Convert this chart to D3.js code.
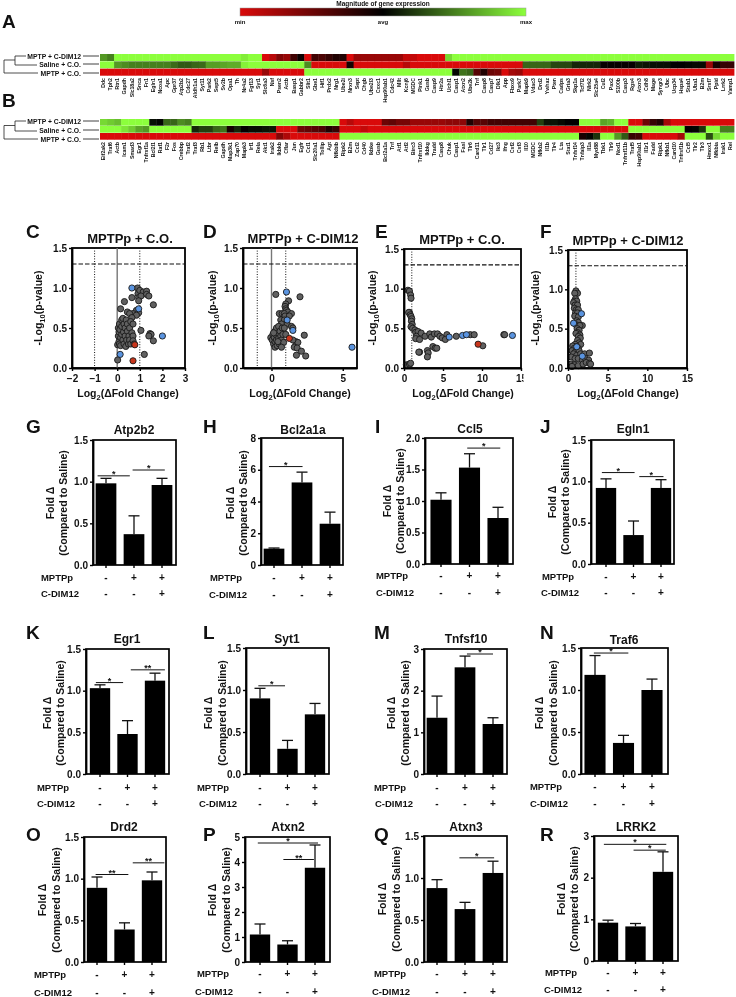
<!DOCTYPE html>
<html><head><meta charset="utf-8">
<script src="https://cdnjs.cloudflare.com/ajax/libs/d3/7.8.5/d3.min.js"></script>
<style>html,body{margin:0;padding:0;background:#fff}svg{display:block;filter:blur(.3px)}text{font-family:"Liberation Sans",Arial,sans-serif;font-weight:700;fill:#111}</style>
</head><body><div id="c"></div>
<script>
// ---------- heat maps ----------
const conditions=["MPTP + C-DIM12","Saline + C.O.","MPTP + C.O."];
const genesA=["Ddc","Tph2","Rtn1","Gapdh","Slc18a2","Snca","Fn1","Egln1","Ncoa1","Apc","Gpr37","Atp2b2","Cdc27","Aldh1a1","Syt11","Park2","Sept5","Sv2b","Opa1","Th","Nr4a2","Fgf13","Syt1","Slc6a3","Nsf","Psen2","Actb","Basp1","Gabbr2","Slit1","Gbe1","Hif1","Prdx2","Nrg1","Ube2i","Nrxn3","Sept","Chgb","Ube2l3","Cxxc1","Hsp90ab1","Cdc42","Mllt","Kcnj6","MGDC","Pink1","Gusb","Casp9","Htr2a","Uchl1","Casp1","Atxn2","Ube2k","Tnf","Casp8","Casp7","Dlk1","App","Fbxo9","Park7","Mapk9","Vdac3","Drd2","Ywhaz","Pten","Cadps","Gria3","Skp1a","Tcf7l2","Nlrk2","Slc25a4","Cul2","Pax2","S100b","Casp3","Rgs4","Atxn3","Cdh8","Mage","Syngr3","Ubc","Ucp34","Hspa4","Stub1","Uba1","B2m","Srsf7","Ppid","Lrrk2","Vamp1"];
const heatA1=[.6,.5,1,1,1,1,1,1,1,1,1,1,1,1,1,1,1,1,1,1,.93,1,1,-1,-.85,-.6,-.7,-.3,-.05,-1,-.3,-.35,-.25,-.15,-.15,-1,-.7,-.7,-.7,-.7,-.7,-.7,-.7,-.9,-.9,-1,-1,-1,-1,.85,1,1,1,1,1,1,1,1,1,1,1,1,1,1,1,1,1,1,1,1,1,1,1,1,1,1,1,1,1,1,1,1,1,1,1,1,1,1,1,1];
const heatA2=[1,1,.6,.55,.5,.5,.5,.5,.5,.5,.42,.35,.35,.4,.42,.62,.62,.65,.68,.68,.95,1,1,1,1,1,1,1,1,.55,-1,-1,-1,-1,-1,-.1,-1,-1,-1,-1,-1,-1,-1,-.85,-1,-1,-1,-1,-1,-1,-1,-1,-1,-1,-1,-1,-1,-1,-1,-1,.4,.4,.4,.4,.28,.28,.28,.15,.15,.15,.15,-.03,-.03,-.03,-.03,-.03,.1,.08,.06,.06,.06,0,0,.02,.04,.04,-.7,-.1,-.25,-.25];
const heatA3=[-1,-1,-1,-1,-1,-1,-1,-1,-1,-1,-1,-1,-1,-1,-1,-1,-1,-1,-1,-1,-1,-1,-1,-.7,-1,-1,-1,-1,-1,1,1,1,1,1,1,1,1,1,1,1,1,1,1,1,1,1,1,1,1,1,.03,.45,.4,-.4,-.15,-.5,-.55,-1,-.75,-.7,-1,-1,-1,-1,-1,-1,-1,-1,-1,-1,-1,-1,-1,-1,-1,-1,-1,-1,-1,-1,-1,-1,-1,-1,-1,-1,-1,-1,-1,-1];
const genesB=["Eif2ak2","Traf6","Actb","Icam1","Smad3","Egr1","Tnfrsf1a","Bcl2l1","Raf1","F2r","Fos","Crebbp","Traf2","Traf3","Rb1","Ltbr","Relb","Gapdh","Map3k1","Zap70","Mapk3","Irf1","Rela","Akt1","Irak2","Ikbkb","Cflar","Jun","Egfr","Ccl1","Slc20a1","Tollip","Agt","Nfkbib","Ripk2","B2m","Ccl2","Cd40","Ikbke","Gusb","Bcl2a1a","Tnf","Atf1","Atf2","Birc3","Tnfrsf10","Ikbkg","Tradd","Casp8","Chuk","Casp1","Fasl","Tlr6","Card11","Tlr1","Cd27","Ikt3","Ifng","Csf2","Csf3","Il10","MGDC","Nfkb2","Il1b","Tlr4","Lta","Stat1","Tnfsf14","Tnfaip3","Il1a","Myd88","Tbk1","Tlr9","Nod1","Tnfrsf11b","Traf5","Hsp90ab1","Il1r1","Fadd","Ripk1","Nfkb1","Card10","Tnfrsf1b","Ccl5","Tlr2","Tlr3","Hmox1","Nfkbia","Irak1","Rel"];
const heatB1=[.85,.8,.75,1,1,1,1,.06,.02,.4,.4,.55,.5,1,1,1,1,1,1,1,1,1,1,1,1,1,1,1,1,1,1,1,1,1,-1,-.85,-1,-1,-1,-1,-.5,-.45,-.55,-.55,-.7,-.7,-.7,-.7,-.7,-.65,-.65,-.65,-.15,-.4,-.4,-.3,-.3,-.3,-.3,-.3,-.3,-.3,.25,.08,.08,.04,0,0,1,1,1,.65,.7,1,1,-1,-1,-.5,-.25,-.15,-.75,-1,-1,-1,-1,-1,-1,-1,-1,-1];
const heatB2=[1,1,1,.9,.8,.65,.6,1,1,1,1,1,1,.15,.25,.25,.4,.45,-.1,.15,-.02,.05,.05,.08,.08,-1,-1,-1,-.5,-.45,-.4,-.35,-.15,-.25,-1,-1,-1,-.9,-1,-1,-1,-1,-1,-1,-1,-1,-1,-1,-1,-1,-1,-1,-1,-1,-1,-1,-1,-1,-1,-1,-1,-1,-1,-1,-1,-1,-1,-1,-1,-1,-1,-1,-1,-1,-1,1,1,1,1,1,1,1,1,-.02,.02,.2,1,1,.5,.5];
const heatB3=[-1,-1,-1,-1,-1,-1,-1,-1,-1,-1,-1,-1,-1,-1,-1,-1,-1,-1,-1,-1,-1,-1,-1,-1,-1,-.6,-.8,-1,-1,-1,-1,-1,-1,-1,1,1,1,1,1,1,1,1,1,1,1,1,1,1,1,1,1,1,1,1,1,1,1,1,1,1,1,1,1,1,1,1,1,1,-.1,.02,.2,1,1,.6,.35,-.25,-.3,-1,-1,-1,-1,-1,-.75,1,1,1,.3,.85,1,1];
const legendLabels=["min","avg","max"];
// ---------- volcano plots ----------
const volcCGray=[[.9,1],[.92,.93],[1,.97],[1.15,.95],[1.3,.96],[1.3,.92],[.65,.88],[.95,.88],[1.05,.9],[1.4,.9],[.32,.83],[.95,.84],[1.6,.79],[.15,.74],[.85,.72],[.95,.69],[.45,.7],[.7,.68],[.55,.68],[.85,.66],[.65,.63],[.02,.29],[.08,.33],[.1,.3],[.05,.4],[.08,.45],[.05,.5],[.1,.55],[.12,.48],[.15,.38],[.15,.28],[.2,.42],[.2,.52],[.2,.6],[.25,.35],[.25,.62],[.28,.45],[.3,.3],[.3,.55],[.35,.4],[.35,.5],[.38,.27],[.4,.6],[.42,.35],[.45,.46],[.45,.55],[.5,.3],[.52,.4],[.55,.5],[.55,.35],[.6,.58],[.6,.3],[.65,.44],[.7,.4],[.7,.34],[.7,.55],[.75,.3],[1.05,.47],[1.45,.43],[1.5,.42],[1.4,.4],[1.6,.34],[1.2,.17],[.02,.1]];
const volcCBlue=[[.65,1],[.95,.74],[2,.4],[.13,.17]];
const volcCRed=[[.78,.29],[.7,.09]];
const volcDGray=[[.3,.92],[2,.89],[1.2,.84],[1,.8],[.95,.77],[1,.74],[1.05,.72],[1.15,.7],[.55,.68],[.75,.68],[.9,.68],[1.4,.68],[.95,.65],[1.25,.65],[.65,.6],[.9,.6],[.7,.55],[1.1,.55],[1.4,.52],[1.5,.5],[2.3,.41],[1.7,.33],[1.85,.32],[1.5,.35],[1.6,.26],[1.8,.25],[2.1,.21],[2.4,.15],[1.75,.16],[-.05,.38],[.05,.35],[.1,.42],[.15,.3],[.2,.38],[.25,.33],[.25,.46],[.25,.26],[.3,.42],[.35,.5],[.35,.35],[.4,.28],[.45,.44],[.5,.52],[.5,.37],[.55,.3],[.6,.46],[.65,.4],[.7,.35],[.75,.5],[.8,.42],[.85,.32],[.9,.5],[1,.42],[.7,.26],[.15,.44],[.45,.33]];
const volcDBlue=[[1.05,.95],[1.1,.6],[1.5,.47],[5.65,.26]];
const volcDRed=[[1.25,.37]];
const volcEGray=[[.5,.98],[.7,.97],[.85,.92],[.9,.88],[.7,.7],[.6,.7],[.8,.67],[.9,.65],[1,.62],[.95,.59],[1.05,.55],[.9,.52],[1.1,.5],[1.4,.48],[1.5,.45],[1.8,.46],[1.6,.4],[2.2,.44],[1.5,.37],[2,.36],[2.7,.4],[3.3,.43],[3.5,.39],[3.9,.43],[4.3,.43],[4.6,.4],[4.9,.38],[5.5,.42],[5.3,.36],[6.7,.4],[8.5,.42],[9,.42],[12.8,.42],[12.9,.42],[10.1,.28],[2,.2],[3,.22],[3.1,.19],[3,.14],[3.7,.27],[4,.25],[4.2,.25],[.3,.04],[.7,.05],[.85,.06],[1.9,.2]];
const volcEBlue=[[7.5,.41],[8,.42],[13.9,.41],[5.8,.39]];
const volcERed=[[9.5,.3]];
const volcFGray=[[1,.98],[1.2,.95],[.85,.95],[.95,.88],[.8,.85],[1.1,.85],[.7,.83],[.9,.8],[1.2,.8],[.8,.76],[1.05,.74],[1.3,.74],[.95,.7],[1.2,.7],[.85,.66],[1.3,.65],[1.1,.6],[1.3,.58],[1,.55],[1.8,.54],[1.5,.54],[1.15,.5],[1.4,.48],[1.2,.45],[1,.44],[1.5,.42],[1.3,.4],[1.55,.38],[1.2,.35],[1.4,.32],[1.6,.3],[.9,.3],[.6,.28],[1.1,.27],[.8,.25],[1.3,.25],[.5,.22],[.9,.2],[1.4,.22],[.7,.18],[1.1,.16],[1.6,.18],[2.1,.18],[2.7,.19],[.4,.14],[.9,.12],[1.3,.12],[1.8,.1],[2.2,.12],[2.6,.1],[.4,.05],[.8,.04],[1.3,.03],[1.9,.05],[2.3,.07],[2.7,.06],[2.85,.05],[.5,.02]];
const volcFBlue=[[1.7,.69],[.7,.57],[1.8,.15],[1.1,.27]];
const volcFRed=[];
const volcTitles=["MPTPp + C.O.","MPTPp + C-DIM12","MPTPp + C.O.","MPTPp + C-DIM12"];
const volcXDomains=[[-2,3],[-2,6],[0,15],[0,15]];
const volcXTicks=[[-2,-1,0,1,2,3],[0,5],[0,5,10,15],[0,5,10,15]];
const volcDotted=[[-1,1],[-1,1],[1],[1]];
const volcZero=[0,0,null,null];
const volcYTicks=[0,.5,1,1.5];
const significance=1.3;
// ---------- bar panels ----------
const genes=["Atp2b2","Bcl2a1a","Ccl5","Egln1","Egr1","Syt1","Tnfsf10","Traf6","Drd2","Atxn2","Atxn3","LRRK2"];
const means=[[.98,.37,.96],[1.03,5.2,2.6],[1.02,1.53,.73],[.92,.35,.92],[1.03,.48,1.12],[.9,.3,.71],[1.35,2.56,1.2],[1.18,.37,1],[.89,.39,.98],[1.1,.7,3.77],[.88,.63,1.06],[.92,.83,2.14]];
const upper=[[1.04,.59,1.04],[1.07,5.85,3.33],[1.13,1.75,.9],[1.03,.52,1.02],[1.07,.64,1.21],[1.02,.4,.84],[1.87,2.83,1.35],[1.41,.46,1.13],[1.02,.47,1.08],[1.52,.85,4.68],[.98,.71,1.2],[.98,.9,2.62]];
const yMax=[1.5,8,2,1.5,1.5,1.5,3,1.5,1.5,5,1.5,3];
const yTicks=[[0,.5,1,1.5],[0,2,4,6,8],[0,.5,1,1.5,2],[0,.5,1,1.5],[0,.5,1,1.5],[0,.5,1,1.5],[0,1,2,3],[0,.5,1,1.5],[0,.5,1,1.5],[0,1,2,3,4,5],[0,.5,1,1.5],[0,1,2,3]];
// each bracket: from group, to group, height (axis units), stars
const brackets=[
 [[-.3,.85,1.07,"*"],[.95,2.1,1.14,"*"]],
 [[-.18,1.02,6.2,"*"]],
 [[.92,2.08,1.84,"*"]],
 [[-.15,1.04,1.106,"*"],[1.21,2.09,1.057,"*"]],
 [[-.15,.84,1.097,"*"],[1.12,2.36,1.25,"**"]],
 [[-.06,.91,1.05,"*"]],
 [[1.07,2,2.88,"*"]],
 [[-.04,1.17,1.44,"*"]],
 [[-.05,1.14,1.05,"**"],[1.3,2.45,1.19,"**"]],
 [[-.08,2.11,4.76,"*"],[.85,1.96,4.1,"**"]],
 [[.8,2.04,1.24,"*"]],
 [[-.15,2.12,2.8,"*"],[.93,2.1,2.66,"*"]]
];
const treatmentNames=["MPTPp","C-DIM12"];
const treatmentRows=[["-","+","+"],["-","-","+"]];
const panelLetters="ABCDEFGHIJKLMNOPQR".split("");

// ---------- layout ----------
const svg=d3.select("#c").append("svg").attr("width",736).attr("height",997);
const heatColor=d3.scaleLinear().domain([-1,0,1]).range(["#d90a0a","#000000","#8cff3c"]);
const letterPos=[[2,28],[2,107],[26,238],[203,238],[375,238],[540,238],[26,433],[203,433],[375,433],[540,433],[26,639],[203,639],[374,639],[540,639],[26,841],[203,841],[374,841],[540,841]];
panelLetters.forEach((l,i)=>svg.append("text").attr("x",letterPos[i][0]).attr("y",letterPos[i][1]).attr("font-size",19).text(l));

// legend
const defs=svg.append("defs");
const gr=defs.append("linearGradient").attr("id","lg");
[[0,-1],[.5,0],[1,1]].forEach(s=>gr.append("stop").attr("offset",s[0]).attr("stop-color",heatColor(s[1])));
const legScale=d3.scalePoint().domain(legendLabels).range([240,526]);
svg.append("rect").attr("x",240).attr("y",8).attr("width",286).attr("height",8).attr("fill","url(#lg)").attr("stroke","#999").attr("stroke-width",.5);
svg.append("text").attr("x",383).attr("y",6).attr("text-anchor","middle").attr("font-size",6.5).text("Magnitude of gene expression");
legendLabels.forEach(l=>{svg.append("text").attr("x",legScale(l)).attr("y",24).attr("text-anchor","middle").attr("font-size",6).text(l);});

function heat(genesList,rows,y0,y1,labY){
 const g=svg.append("g");
 const x=d3.scaleBand().domain(d3.range(genesList.length)).range([100,734]);
 const y=d3.scaleBand().domain(d3.range(3)).range([y0,y1]);
 rows.forEach((r,ri)=>{g.selectAll(null).data(r).enter().append("rect")
  .attr("x",(d,i)=>x(i)).attr("y",y(ri)).attr("width",x.bandwidth()+.4).attr("height",y.bandwidth()-.3).attr("fill",d=>heatColor(d));});
 g.selectAll(null).data(genesList).enter().append("text")
  .attr("transform",(d,i)=>`translate(${x(i)+x.bandwidth()/2+1.8},${y1+2}) rotate(-90)`)
  .attr("text-anchor","end").attr("font-size",5.2).attr("fill","#222").text(d=>d);
 conditions.forEach((c,i)=>{
  g.append("text").attr("x",81).attr("y",labY[i]+2.5).attr("text-anchor","end").attr("font-size",6.8).text(c);
  g.append("line").attr("x1",83).attr("x2",99).attr("y1",labY[i]).attr("y2",labY[i]).attr("stroke","#111").attr("stroke-width",.8);
 });
 const p=d3.path();
 p.moveTo(26,labY[0]);p.lineTo(15,labY[0]);p.lineTo(15,labY[1]+1);p.lineTo(37,labY[1]+1);
 const m=(labY[0]+labY[1])/2;
 p.moveTo(15,m);p.lineTo(4,m);p.lineTo(4,labY[2]);p.lineTo(38,labY[2]);
 g.append("path").attr("d",p.toString()).attr("fill","none").attr("stroke","#222").attr("stroke-width",.8);
}
heat(genesA,[heatA1,heatA2,heatA3],54,76,[56,64,73]);
heat(genesB,[heatB1,heatB2,heatB3],119,140,[121,130,139]);

// volcano: left,right,top,bottom,titleX,xLabelX,yLabelX
const volcBoxes=[[72,185,248,368,130,128,42],[243,357,248,368,303,300,216],[404,521,249,368,462,463,376],[568,687,250,368,628,628,539]];
const volcSets=[[volcCGray,volcCBlue,volcCRed],[volcDGray,volcDBlue,volcDRed],[volcEGray,volcEBlue,volcERed],[volcFGray,volcFBlue,volcFRed]];
const dotFill=["#606060","#5a94e0","#c9361c"];
defs.append("clipPath").attr("id","cutE").append("rect").attr("x",-50).attr("y",-2).attr("width",52).attr("height",30);
function axisStyle(sel,fs){sel.select(".domain").attr("stroke","#000").attr("stroke-width",1.8);
 sel.selectAll(".tick line").attr("stroke","#000").attr("stroke-width",1.4);
 sel.selectAll(".tick text").attr("font-size",fs).attr("font-family",'"Liberation Sans",Arial,sans-serif').attr("fill","#111");}
const fmt=d3.format(".1f");
volcBoxes.forEach((b,i)=>{
 const g=svg.append("g");
 const x=d3.scaleLinear().domain(volcXDomains[i]).range([b[0],b[1]]);
 const y=d3.scaleLinear().domain([0,1.5]).range([b[3],b[2]]);
 g.append("rect").attr("x",b[0]).attr("y",b[2]).attr("width",b[1]-b[0]).attr("height",b[3]-b[2]).attr("fill","none").attr("stroke","#000").attr("stroke-width",1.8);
 volcDotted[i].forEach(v=>g.append("line").attr("x1",x(v)).attr("x2",x(v)).attr("y1",b[2]).attr("y2",b[3]).attr("stroke","#111").attr("stroke-width",1).attr("stroke-dasharray","1 1.6"));
 if(volcZero[i]!==null)g.append("line").attr("x1",x(0)).attr("x2",x(0)).attr("y1",b[2]).attr("y2",b[3]).attr("stroke","#777").attr("stroke-width",1.4);
 g.append("line").attr("x1",b[0]).attr("x2",b[1]).attr("y1",y(significance)).attr("y2",y(significance)).attr("stroke","#111").attr("stroke-width",1.2).attr("stroke-dasharray","4.5 2");
 volcSets[i].forEach((set,k)=>g.selectAll(null).data(set).enter().append("circle").attr("cx",d=>x(d[0])).attr("cy",d=>y(d[1])).attr("r",3.1).attr("fill",dotFill[k]).attr("stroke","#1a1a1a").attr("stroke-width",.9));
 const ax=g.append("g").attr("transform",`translate(0,${b[3]})`).call(d3.axisBottom(x).tickValues(volcXTicks[i]).tickSize(3).tickPadding(4).tickSizeOuter(0).tickFormat(d3.format("d")));
 axisStyle(ax,10);
 if(i===2){ax.selectAll(".tick").filter(d=>d===15).select("text").attr("clip-path","url(#cutE)");}
 const ay=g.append("g").attr("transform",`translate(${b[0]},0)`).call(d3.axisLeft(y).tickValues(volcYTicks).tickSize(3).tickPadding(2).tickSizeOuter(0).tickFormat(fmt));
 axisStyle(ay,10);
 g.append("text").attr("x",b[4]).attr("y",b[2]-5).attr("text-anchor","middle").attr("font-size",13).text(volcTitles[i]);
 const xt=g.append("text").attr("x",b[5]).attr("y",397).attr("text-anchor","middle").attr("font-size",10.5);
 xt.append("tspan").text("Log");xt.append("tspan").attr("dy",2.5).attr("font-size",7.5).text("2");xt.append("tspan").attr("dy",-2.5).text("(\u0394Fold Change)");
 const yt=g.append("text").attr("transform",`translate(${b[6]},${b[3]-60}) rotate(-90)`).attr("text-anchor","middle").attr("font-size",10.5);
 yt.append("tspan").text("-Log");yt.append("tspan").attr("dy",2.5).attr("font-size",7.5).text("10");yt.append("tspan").attr("dy",-2.5).text("(p-value)");
});

// bars: left,right,top,bottom,center0,center2,titleX,titleY,foldX,comparedX,midY,labelMX,labelCX,labelY1,labelY2
const barBoxes=[
 [93,176,440,565,106,162,134,434,51,64,503,57,60,581,597],
 [261,343,438,565,274,330,303,434,231,244,503,226,228,581,598],
 [425,513,438,564,441,498,470,433,388,401,501,392,395,579,596],
 [591,674,440,564,606,661,633,433,553,566,502,558,560,580,596],
 [86,169,649,774,100,155,127,643,48,61,713,53,56,791,807],
 [246,329,648,774,260,315,287,643,209,223,713,213,218,791,807],
 [424,507,649,774,437,493,466,643,392,406,713,390,394,791,807],
 [581,668,648,774,595,652,624,644,540,554,713,546,549,790,807],
 [84,166,837,962,97,152,124,831,43,57,900,50,53,978,996],
 [245,330,837,962,260,315,288,831,213,227,900,213,214,977,995],
 [424,507,836,962,437,493,466,831,383,397,899,390,391,977,995],
 [594,678,836,961,608,663,636,831,562,575,899,561,563,976,993]
];
const groupIds=["g0","g1","g2"];
barBoxes.forEach((b,i)=>{
 const g=svg.append("g");
 const step=(b[5]-b[4])/2;
 const x=d3.scaleBand().domain(groupIds).range([b[4]-step/2,b[5]+step/2]).paddingInner(.26).paddingOuter(.13);
 const xc=d3.scaleLinear().domain([0,2]).range([b[4],b[5]]);
 const y=d3.scaleLinear().domain([0,yMax[i]]).range([b[3],b[2]]);
 const cx=id=>x(id)+x.bandwidth()/2;
 g.append("rect").attr("x",b[0]).attr("y",b[2]).attr("width",b[1]-b[0]).attr("height",b[3]-b[2]).attr("fill","none").attr("stroke","#000").attr("stroke-width",1.7);
 g.selectAll(null).data(groupIds).enter().append("rect").attr("x",d=>x(d)).attr("y",(d,k)=>y(means[i][k])).attr("width",x.bandwidth()).attr("height",(d,k)=>b[3]-y(means[i][k])).attr("fill","#000");
 groupIds.forEach((id,k)=>{
  const c=cx(id);
  g.append("line").attr("x1",c).attr("x2",c).attr("y1",y(means[i][k])).attr("y2",y(upper[i][k])).attr("stroke","#111").attr("stroke-width",1.3);
  g.append("line").attr("x1",c-5.5).attr("x2",c+5.5).attr("y1",y(upper[i][k])).attr("y2",y(upper[i][k])).attr("stroke","#111").attr("stroke-width",1.3);
 });
 const ax=g.append("g").attr("transform",`translate(0,${b[3]})`).call(d3.axisBottom(x).tickSize(3).tickSizeOuter(0).tickFormat(""));
 axisStyle(ax,9);ax.select(".domain").remove();
 const ay=g.append("g").attr("transform",`translate(${b[0]},0)`).call(d3.axisLeft(y).tickValues(yTicks[i]).tickSize(3).tickPadding(2).tickSizeOuter(0).tickFormat(yMax[i]===1.5||yMax[i]===2?fmt:d3.format("d")));
 axisStyle(ay,10);
 brackets[i].forEach(s=>{
  const x1=xc(s[0]),x2=xc(s[1]),yy=y(s[2]);
  g.append("line").attr("x1",x1).attr("x2",x2).attr("y1",yy).attr("y2",yy).attr("stroke","#111").attr("stroke-width",1);
  g.append("text").attr("x",(x1+x2)/2).attr("y",yy+1).attr("text-anchor","middle").attr("font-size",9).attr("font-weight",400).attr("fill","#222").text(s[3]);
 });
 g.append("text").attr("x",b[6]).attr("y",b[7]).attr("text-anchor","middle").attr("font-size",12).text(genes[i]);
 g.append("text").attr("transform",`translate(${b[8]+3},${b[10]}) rotate(-90)`).attr("text-anchor","middle").attr("font-size",10.5).text("Fold \u0394");
 g.append("text").attr("transform",`translate(${b[9]+3},${b[10]}) rotate(-90)`).attr("text-anchor","middle").attr("font-size",10.5).text("(Compared to Saline)");
 treatmentNames.forEach((t,r)=>{
  const yy=b[13+r];
  g.append("text").attr("x",b[11+r]).attr("y",yy).attr("text-anchor","middle").attr("font-size",9.5).text(t);
  treatmentRows[r].forEach((s,k)=>g.append("text").attr("x",cx(groupIds[k])).attr("y",yy).attr("text-anchor","middle").attr("font-size",10).text(s));
 });
});
</script></body></html>
